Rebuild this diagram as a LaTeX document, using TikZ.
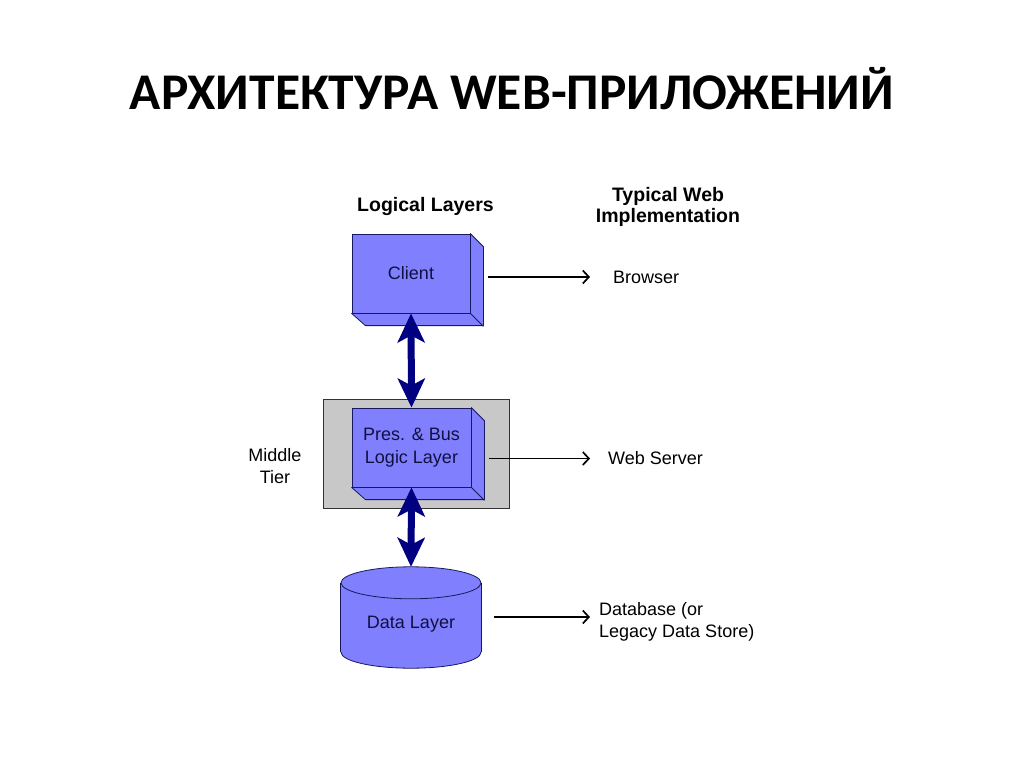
\documentclass[tikz,border=0pt]{standalone}
\usepackage{fontspec}
\setmainfont{Liberation Sans}
\newfontfamily\titlefont{Carlito}
\usetikzlibrary{positioning,calc,arrows.meta,backgrounds}
\definecolor{layerblue}{RGB}{128,128,255}
\definecolor{layerline}{RGB}{24,24,96}
\definecolor{tiergray}{RGB}{200,200,200}
\definecolor{linkblue}{RGB}{0,0,128}
\definecolor{layertext}{RGB}{16,16,64}

\begin{document}
\begin{tikzpicture}[x=1pt,y=-1pt,
  every node/.style={font=\fontsize{18}{21.6}\selectfont,inner sep=0pt},
  layer/.style={draw=layerline,fill=layerblue,line width=0.8pt,text=layertext,align=center,minimum width=118pt,minimum height=79pt},
  layerside/.style={draw=layerline,fill=layerblue,line width=0.8pt,line join=round},
  tier/.style={draw=black!80,fill=tiergray,line width=1pt,minimum width=186pt,minimum height=109pt},
  heading/.style={font=\bfseries\fontsize{19.5}{21}\selectfont,align=center},
  tierlink/.style={{Stealth[length=29pt,width=27pt,inset=7pt]}-{Stealth[length=29pt,width=27pt,inset=7pt]},draw=linkblue,line width=7pt},
  maplink/.style={-{Straight Barb[length=6pt,width=13pt,line width=1.7pt]},line width=1.7pt,black}]
\useasboundingbox (0,0) rectangle (1024,767);

\node[font=\titlefont\bfseries\fontsize{51.5}{60}\selectfont,anchor=base] (title) at (512,110) {АРХИТЕКТУРА WEB-ПРИЛОЖЕНИЙ};

\node[heading,anchor=base] (logical) at (425.5,212) {Logical Layers};
\node[heading] (typical) at (668,207) {Typical Web\\Implementation};

\node[layer] (client) at (411,273.5) {Client};
\filldraw[layerside] (client.north east) -- ++(13,13) -- ++(0,79) -- ++(-118,0) -- (client.south west) -- (client.south east) -- cycle;
\draw[layerside,fill=none] (client.south east) -- ++(13,13);

\node[tier] (midtier) at (416,453.5) {};
\node[layer,minimum width=119pt] (pres) at (411.5,447.5) {Pres. \& Bus\\[1.4pt]Logic Layer};
\filldraw[layerside] (pres.north east) -- ++(13,13) -- ++(0,79) -- ++(-119,0) -- (pres.south west) -- (pres.south east) -- cycle;
\draw[layerside,fill=none] (pres.south east) -- ++(13,13);
\node[align=center] (midlabel) at (275,466) {Middle\\Tier};

\node[text=layertext,minimum width=140pt,minimum height=82pt] (data) at (411,624) {Data Layer};
\begin{scope}[on background layer]
\fill[white] (0,0) rectangle (1024,767);
\filldraw[layerside] ($(data.south)+(0,-13)$) ellipse [x radius=70,y radius=16];
\fill[layerblue] (data.north west) rectangle ($(data.south east)+(0,-13)$);
\draw[layerside] (data.north west) -- ($(data.south west)+(0,-13)$);
\draw[layerside] (data.north east) -- ($(data.south east)+(0,-13)$);
\filldraw[layerside] (data.north) ellipse [x radius=70,y radius=16];
\end{scope}

\draw[tierlink] (client.south) -- (pres.north);
\draw[tierlink] (pres.south) -- ($(data.north)+(0,-16)$);

\node[anchor=west] (browser) at (613,277) {Browser};
\node[anchor=west] (webserver) at (608,458.5) {Web Server};
\node[anchor=west,align=left] (database) at (599,622) {Database (or\\Legacy Data Store)};

\draw[maplink] ($(client.east |- browser.west)+(18,0)$) -- ($(browser.west)+(-23,0)$);
\draw[maplink] ($(pres.east |- webserver.west)+(18,0)$) -- ($(webserver.west)+(-18,0)$);
\draw[maplink] ($(data.east |- database.west)+(13,-5)$) -- ($(database.west)+(-9,-5)$);
\end{tikzpicture}
\end{document}
